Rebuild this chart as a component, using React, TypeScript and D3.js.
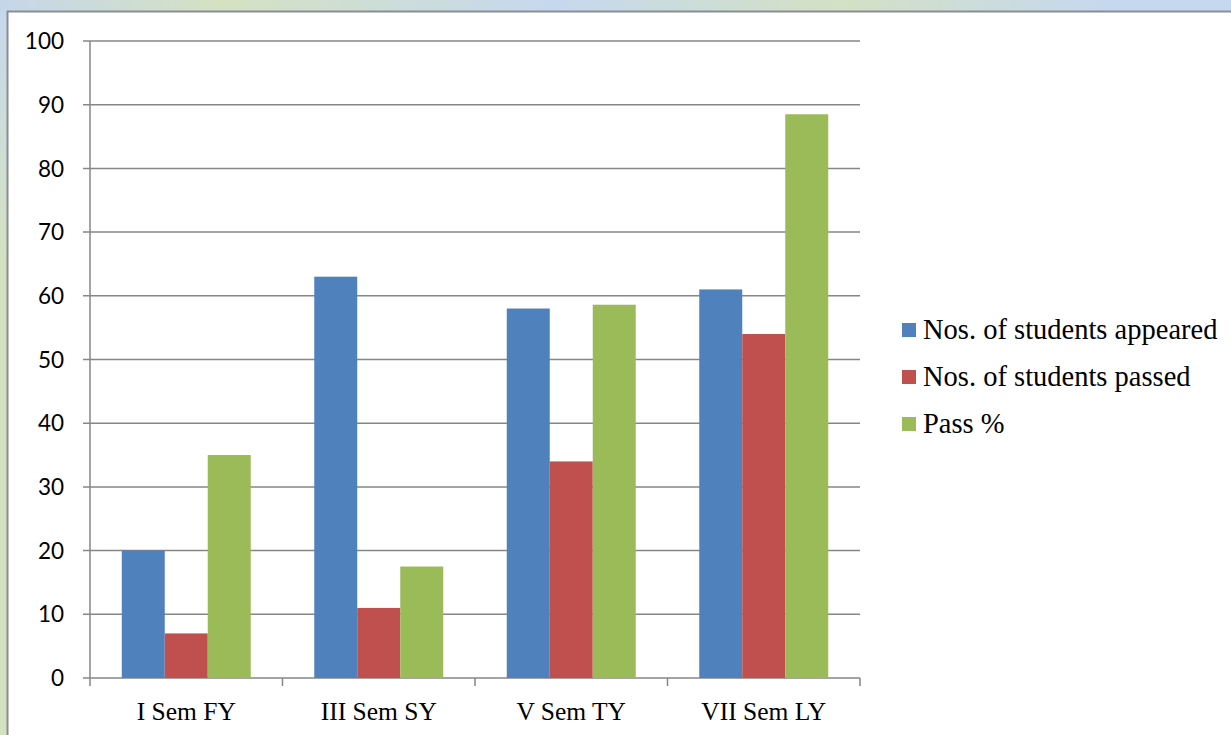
import React from "react";
import * as d3 from "d3";

const categories = ["I Sem FY", "III Sem SY", "V Sem TY", "VII Sem LY"];
const seriesNames = ["Nos. of students appeared", "Nos. of students passed", "Pass %"];
const appeared = [20, 63, 58, 61];
const passed = [7, 11, 34, 54];
const passPct = [35, 17.5, 58.6, 88.5];
const yTicks = [0, 10, 20, 30, 40, 50, 60, 70, 80, 90, 100];
const colors = ["#4F81BD", "#C0504D", "#9BBB59"];

export default function App() {
  const W = 1231, H = 735;
  const x0 = 90, x1 = 860, yTop = 41, yBot = 678;
  const series = [appeared, passed, passPct];
  const x = d3.scaleBand<string>().domain(categories).range([x0, x1]).paddingInner(0.33).paddingOuter(0.165);
  const xs = d3.scaleBand<number>().domain([0, 1, 2]).range([0, x.bandwidth()]);
  const y = d3.scaleLinear().domain([0, 100]).range([yBot, yTop]);
  const step = (x1 - x0) / categories.length;
  const serif = "'Liberation Serif', 'DejaVu Serif', serif";
  return (
    <svg width={W} height={H} style={{ position: "absolute", left: 0, top: 0 }}>
      <defs>
        <linearGradient id="bgTop" x1="0" y1="0" x2="1" y2="0">
          <stop offset="0" stopColor="#c6d6ea" />
          <stop offset="0.18" stopColor="#d4e2c2" />
          <stop offset="0.45" stopColor="#c6d8ef" />
          <stop offset="0.68" stopColor="#d3e1c4" />
          <stop offset="0.9" stopColor="#c6d8ef" />
          <stop offset="1" stopColor="#c6d8ef" />
        </linearGradient>
        <linearGradient id="bgLeft" x1="0" y1="0" x2="0" y2="1">
          <stop offset="0" stopColor="#c6d8ef" />
          <stop offset="0.35" stopColor="#d4e2c2" />
          <stop offset="1" stopColor="#d4e2c2" />
        </linearGradient>
      </defs>
      <rect x={0} y={0} width={W} height={H} fill="url(#bgLeft)" />
      <rect x={0} y={0} width={W} height={11} fill="url(#bgTop)" />
      <rect x={8} y={12} width={W} height={H} fill="#ffffff" />
      <line x1={7} y1={11.5} x2={W} y2={11.5} stroke="#8a8d93" strokeWidth={2} />
      <line x1={7.5} y1={11} x2={7.5} y2={H} stroke="#8a8d93" strokeWidth={2} />
      {yTicks.map((t) => (
        <g key={t}>
          <line x1={83} x2={x1} y1={y(t)} y2={y(t)} stroke="#868686" strokeWidth={1.5} />
          <text x={64} y={y(t)} dy="0.36em" textAnchor="end" fontFamily="Lato, 'Liberation Sans', sans-serif" fontSize={22.5} fill="#000">{t}</text>
        </g>
      ))}
      <line x1={x0} x2={x0} y1={yTop} y2={yBot} stroke="#868686" strokeWidth={1.5} />
      {d3.range(categories.length + 1).map((i) => (
        <line key={i} x1={x0 + i * step} x2={x0 + i * step} y1={yBot} y2={yBot + 8} stroke="#868686" strokeWidth={1.5} />
      ))}
      {categories.map((c, ci) => (
        <g key={c}>
          {series.map((s, si) => (
            <rect key={si} x={(x(c) as number) + (xs(si) as number)} y={y(s[ci])} width={xs.bandwidth()} height={yBot - y(s[ci])} fill={colors[si]} />
          ))}
          <text x={(x(c) as number) + x.bandwidth() / 2} y={720} textAnchor="middle" fontFamily={serif} fontSize={25.5} fill="#000">{c}</text>
        </g>
      ))}
      {seriesNames.map((n, i) => (
        <g key={n}>
          <rect x={902} y={323 + i * 47} width={14} height={14} fill={colors[i]} />
          <text x={923} y={339 + i * 47} fontFamily={serif} fontSize={28.5} fill="#000">{n}</text>
        </g>
      ))}
    </svg>
  );
}
